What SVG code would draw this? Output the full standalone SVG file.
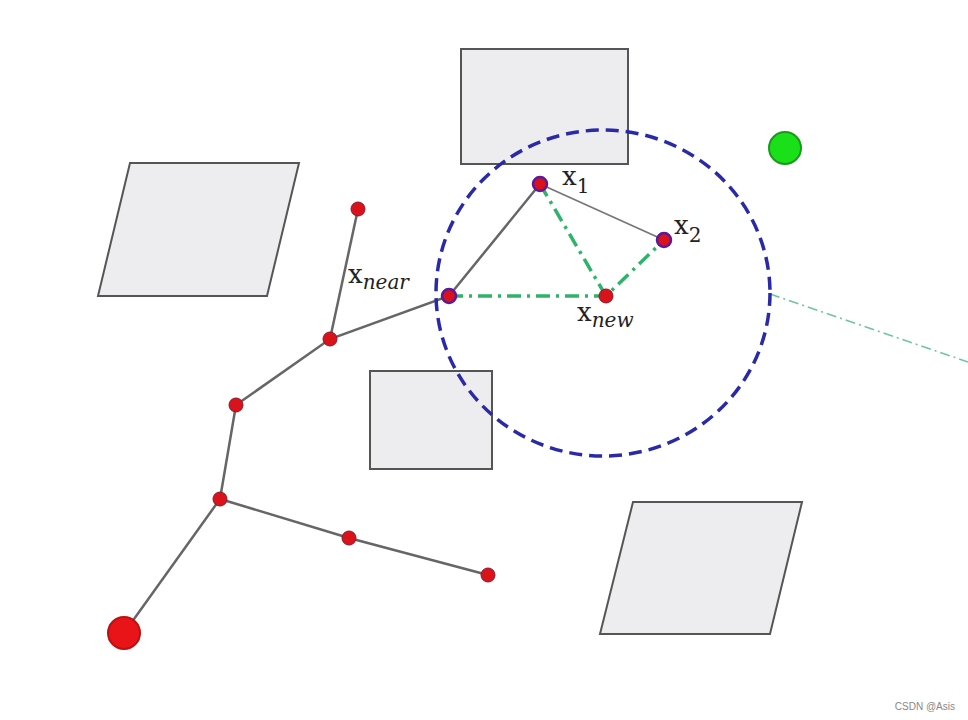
<svg xmlns="http://www.w3.org/2000/svg" width="968" height="720" viewBox="0 0 968 720">
<style>
.obs{fill:#ededef;stroke:#555;stroke-width:2}
.edge{stroke:#666;stroke-width:2.5;fill:none}
.node{fill:#d9121b;stroke:#8a1a2a;stroke-width:1}
.pnode{fill:#d9121b;stroke:#5a1a9a;stroke-width:2.5}
.gd{stroke:#2eb36a;stroke-width:3.5;fill:none;stroke-dasharray:14 6 3 6}
.lbl{font-family:"DejaVu Serif","Liberation Serif",serif;font-size:26px;fill:#222}
.sub{font-size:20px;font-style:italic}
</style>
<rect width="968" height="720" fill="#fff"/>
<g id="obstacles">
<rect class="obs" x="461" y="49" width="167" height="115"/>
<polygon class="obs" points="130,163 299,163 267,296 98,296"/>
<rect class="obs" x="370" y="371" width="122" height="98"/>
<polygon class="obs" points="633,502 802,502 770,634 600,634"/>
</g>
<g id="connectors">
<path class="edge" d="M124,633 L220,499 L236,405 L330,339 L449,296 L540,184"/>
<path d="M540,184 L664,240" stroke="#777" stroke-width="1.8" fill="none"/>
<path class="edge" d="M220,499 L349,538 L488,575"/>
<path class="edge" d="M330,339 L358,209"/>
<path class="gd" d="M449,296 L606,296 L664,240"/>
<path class="gd" d="M540,184 L606,296"/>
<path d="M770,294 L968,362" stroke="#6cc4a8" stroke-width="1.5" stroke-dasharray="10 4 2 4" fill="none"/>
</g>
<g id="circle"><ellipse cx="603" cy="293" rx="167" ry="163" fill="none" stroke="#2a2aa8" stroke-width="3.5" stroke-dasharray="13 7"/></g>
<g id="nodes">
<circle id="start" cx="124" cy="633" r="16" fill="#e81418" stroke="#b11" stroke-width="2"/>
<circle id="goal" cx="785" cy="148" r="16" fill="#19e019" stroke="#1a9a1a" stroke-width="2"/>
<circle class="node" cx="220" cy="499" r="7"/>
<circle class="node" cx="236" cy="405" r="7"/>
<circle class="node" cx="330" cy="339" r="7"/>
<circle class="node" cx="358" cy="209" r="7"/>
<circle class="node" cx="349" cy="538" r="7"/>
<circle class="node" cx="488" cy="575" r="7"/>
<circle class="node" cx="606" cy="296" r="7"/>
<circle class="pnode" cx="449" cy="296" r="7"/>
<circle class="pnode" cx="540" cy="184" r="7"/>
<circle class="pnode" cx="664" cy="240" r="7"/>
</g>
<g id="labels">
<text class="lbl" x="348" y="283">x<tspan class="sub" dy="6">near</tspan></text>
<text class="lbl" x="562" y="185">x<tspan font-size="20" dy="8">1</tspan></text>
<text class="lbl" x="674" y="234">x<tspan font-size="20" dy="8">2</tspan></text>
<text class="lbl" x="577" y="321">x<tspan class="sub" dy="6">new</tspan></text>
<text x="955" y="710" font-family="Liberation Sans,sans-serif" font-size="10" fill="#888" text-anchor="end">CSDN @Asis</text>
</g>
</svg>
